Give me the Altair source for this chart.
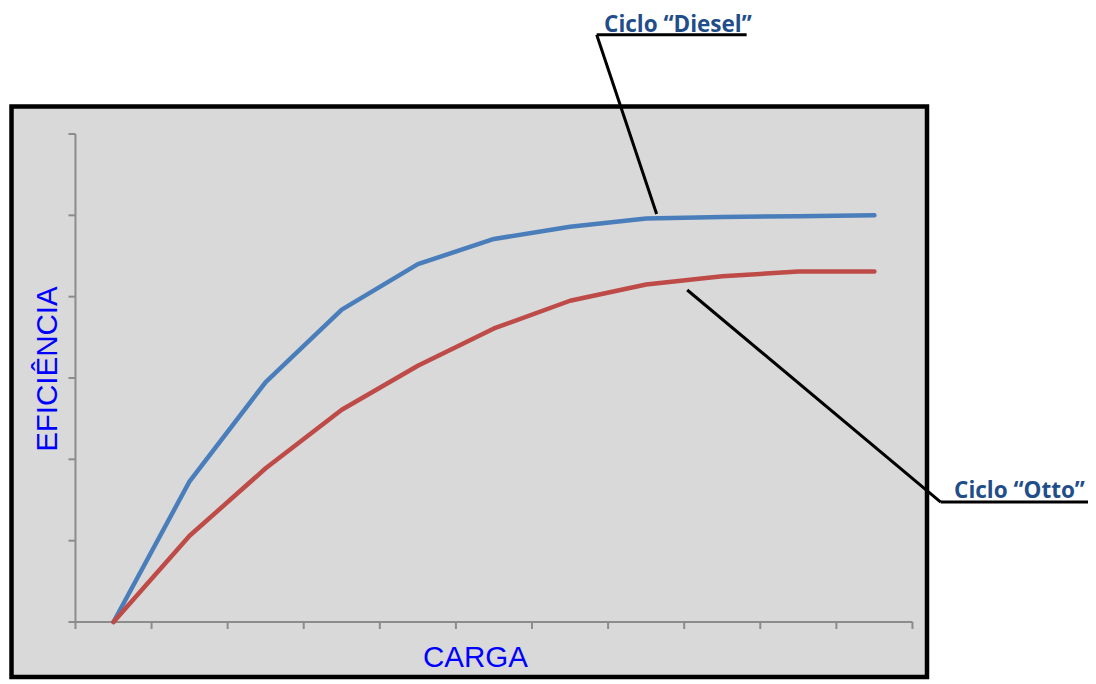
import altair as alt
import pandas as pd

# ---- data ----
carga = [1, 2, 3, 4, 5, 6, 7, 8, 9, 10, 11]
eficiencia_diesel = [0, 17.3, 29.5, 38.4, 44.0, 47.1, 48.6, 49.6, 49.8, 49.9, 50.0]
eficiencia_otto = [0, 10.6, 18.9, 26.1, 31.5, 36.1, 39.5, 41.5, 42.5, 43.1, 43.1]
series = ["Ciclo “Diesel”", "Ciclo “Otto”"]
x_ticks = [0.5, 1.5, 2.5, 3.5, 4.5, 5.5, 6.5, 7.5, 8.5, 9.5, 10.5, 11.5]
y_ticks = [0, 10, 20, 30, 40, 50, 60]
titulo_x = "CARGA"
titulo_y = "EFICIÊNCIA"

# annotation anchors (in data units)
ann_text_x = [8.417, 12.906]
ann_text_y = [72.51, 15.21]
ann_line_x = [7.350, 9.321, 11.871, 13.833, 7.350, 8.138, 11.871, 8.540]
ann_line_y = [72.21, 72.21, 14.75, 14.75, 72.21, 50.17, 14.75, 40.82]

# view geometry
VIEW_W, VIEW_H = 915.5, 570.5
X_DOM = [-0.3405, 11.691]
Y_DOM = [-6.7626, 63.383]
TICK_PX = 7
tick_dx = TICK_PX * (X_DOM[1] - X_DOM[0]) / VIEW_W
tick_dy = TICK_PX * (Y_DOM[1] - Y_DOM[0]) / VIEW_H

lines_df = pd.DataFrame({
    "carga": carga * 2,
    "eficiencia": eficiencia_diesel + eficiencia_otto,
    "serie": [series[0]] * len(carga) + [series[1]] * len(carga),
})

# axis domain lines + tick marks as rules
ax_x, ax_x2, ax_y, ax_y2 = [], [], [], []
ax_x += [x_ticks[0], x_ticks[0]]
ax_x2 += [x_ticks[-1], x_ticks[0]]
ax_y += [y_ticks[0], y_ticks[0]]
ax_y2 += [y_ticks[0], y_ticks[-1]]
for t in x_ticks:
    ax_x.append(t); ax_x2.append(t); ax_y.append(y_ticks[0]); ax_y2.append(y_ticks[0] - tick_dy)
for t in y_ticks:
    ax_x.append(x_ticks[0]); ax_x2.append(x_ticks[0] - tick_dx); ax_y.append(t); ax_y2.append(t)
axis_df = pd.DataFrame({"x": ax_x, "x2": ax_x2, "y": ax_y, "y2": ax_y2})

leader_df = pd.DataFrame({
    "x": ann_line_x[0::2],
    "x2": ann_line_x[1::2],
    "y": ann_line_y[0::2],
    "y2": ann_line_y[1::2],
})

ann_df = pd.DataFrame({"x": ann_text_x, "y": ann_text_y, "label": series})
xt_df = pd.DataFrame({"x": [5.757], "y": [-5.50], "label": [titulo_x]})
yt_df = pd.DataFrame({"x": [0.257], "y": [31.1], "label": [titulo_y]})

xscale = alt.Scale(domain=X_DOM, nice=False, zero=False)
yscale = alt.Scale(domain=Y_DOM, nice=False, zero=False)

AX_COLOR = "#8C8C8C"

axis_rules = alt.Chart(axis_df).mark_rule(color=AX_COLOR, strokeWidth=2).encode(
    x=alt.X("x:Q", scale=xscale, axis=None),
    x2="x2:Q",
    y=alt.Y("y:Q", scale=yscale, axis=None),
    y2="y2:Q",
)

lines = alt.Chart(lines_df).mark_line(
    strokeWidth=4.5, strokeCap="round", strokeJoin="round"
).encode(
    x=alt.X("carga:Q", scale=xscale, axis=None),
    y=alt.Y("eficiencia:Q", scale=yscale, axis=None),
    color=alt.Color("serie:N", scale=alt.Scale(domain=series, range=["#4A7EBB", "#BE4B48"]),
                    legend=None),
)

leaders = alt.Chart(leader_df).mark_rule(color="black", strokeWidth=3).encode(
    x=alt.X("x:Q", scale=xscale, axis=None),
    x2="x2:Q",
    y=alt.Y("y:Q", scale=yscale, axis=None),
    y2="y2:Q",
)

ann_text = alt.Chart(ann_df).mark_text(
    font="Open Sans", fontWeight="bold", fontSize=22.5, color="#1F4E8A",
    align="center", baseline="alphabetic",
).encode(
    x=alt.X("x:Q", scale=xscale, axis=None),
    y=alt.Y("y:Q", scale=yscale, axis=None),
    text="label:N",
)

xt = alt.Chart(xt_df).mark_text(
    font="Liberation Sans", fontSize=29.5, color="#0000FF",
    align="center", baseline="alphabetic",
).encode(
    x=alt.X("x:Q", scale=xscale, axis=None),
    y=alt.Y("y:Q", scale=yscale, axis=None),
    text="label:N",
)

yt = alt.Chart(yt_df).mark_text(
    font="Liberation Sans", fontSize=29.5, color="#0000FF",
    align="center", baseline="alphabetic", angle=270,
).encode(
    x=alt.X("x:Q", scale=xscale, axis=None),
    y=alt.Y("y:Q", scale=yscale, axis=None),
    text="label:N",
)

chart = alt.layer(axis_rules, lines, leaders, ann_text, xt, yt).properties(
    width=VIEW_W,
    height=VIEW_H,
    autosize=alt.AutoSizeParams(type="none"),
    padding={"left": 3.5, "top": 98.5, "right": 161, "bottom": 3},
    background="white",
).configure_view(
    fill="#D9D9D9", stroke="black", strokeWidth=4.5,
)

chart.save("out.html", embed_options={"renderer": "svg", "actions": False})
